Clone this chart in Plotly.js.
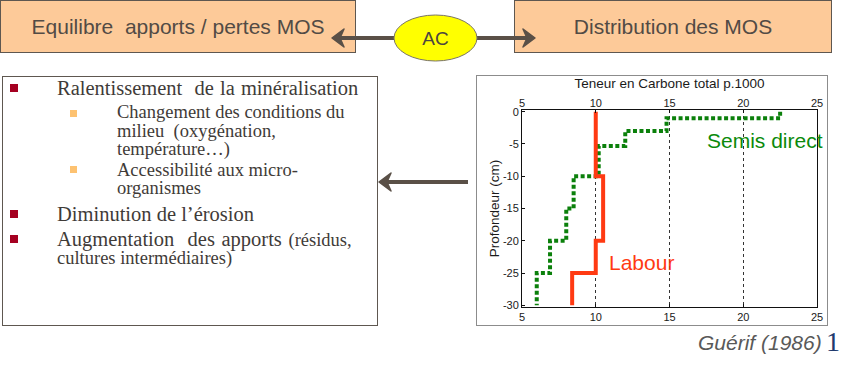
<!DOCTYPE html>
<html>
<head>
<meta charset="utf-8">
<script src="https://cdn.plot.ly/plotly-3.0.1.min.js"></script>
<style>
  html, body { margin:0; padding:0; background:#ffffff; }
  #wrap { position:relative; width:860px; height:376px; overflow:hidden; background:#fff; }
  #chart { position:absolute; left:0; top:0; width:860px; height:376px; }
  .abs { position:absolute; white-space:nowrap; }
  .box { position:absolute; box-sizing:border-box; background:#FDCA99; border:1.5px solid #5e5750;
         font-family:"Liberation Sans", Arial, sans-serif; font-size:21px; color:#524b45;
         display:flex; align-items:center; justify-content:center; }
  .serif { font-family:"Liberation Serif", "Times New Roman", serif; color:#3f3b38; }
  .sq1 { position:absolute; width:8px; height:8px; background:#A50021; }
  .sq2 { position:absolute; width:7px; height:7px; background:#FDC271; }
  #decor { position:absolute; left:0; top:0; width:860px; height:376px; pointer-events:none; }
</style>
</head>
<body>
<div id="wrap">
  <div id="frame" style="position:absolute;left:476px;top:75px;width:352px;height:251px;box-sizing:border-box;border:1.5px solid #8c8c8c;background:#fff;"></div>
  <div id="chart"></div>
  <div id="decor">
    <div class="box" style="left:0px;top:0px;width:356px;height:53px;">Equilibre&nbsp; apports / pertes MOS</div>
    <div class="box" style="left:514px;top:0px;width:318px;height:53px;">Distribution des MOS</div>
    <svg width="860" height="376" style="position:absolute;left:0;top:0;">
      <g stroke="#5a5047" fill="#5a5047">
        <line x1="394" y1="38" x2="340" y2="38" stroke-width="4"/>
        <path d="M332,38 L344,29 L340,38 L344,47 Z" stroke-width="1.5" stroke-linejoin="round"/>
        <line x1="477" y1="38" x2="527" y2="38" stroke-width="4"/>
        <path d="M535,38 L523,29 L527,38 L523,47 Z" stroke-width="1.5" stroke-linejoin="round"/>
        <line x1="468" y1="182" x2="387" y2="182" stroke-width="4"/>
        <path d="M379,182 L391,173 L387,182 L391,191 Z" stroke-width="1.5" stroke-linejoin="round"/>
      </g>
      <ellipse cx="435.5" cy="38" rx="41.5" ry="23" fill="#FFFF00" stroke="#7a7466" stroke-width="1"/>
      <text x="435.5" y="45" text-anchor="middle" font-family="Liberation Sans, Arial, sans-serif" font-size="19" fill="#4a4540">AC</text>
    </svg>
    <div style="position:absolute;left:2px;top:76px;width:376px;height:250px;box-sizing:border-box;border:1.5px solid #5e5750;"></div>

    <div class="sq1" style="left:10px;top:84px;"></div>
    <div class="abs serif" style="left:57px;top:78px;font-size:20.5px;line-height:20px;word-spacing:1px;">Ralentissement&nbsp; de la minéralisation</div>

    <div class="sq2" style="left:70px;top:110px;"></div>
    <div class="abs serif" style="left:117px;top:104px;font-size:18.5px;line-height:17px;">Changement des conditions du</div>
    <div class="abs serif" style="left:117px;top:123px;font-size:18.5px;line-height:17px;">milieu&nbsp; (oxygénation,</div>
    <div class="abs serif" style="left:117px;top:140.5px;font-size:18.5px;line-height:17px;">température…)</div>

    <div class="sq2" style="left:70px;top:166px;"></div>
    <div class="abs serif" style="left:117px;top:161.5px;font-size:18.5px;line-height:17px;">Accessibilité aux micro-</div>
    <div class="abs serif" style="left:117px;top:179.5px;font-size:18.5px;line-height:17px;">organismes</div>

    <div class="sq1" style="left:10px;top:210px;"></div>
    <div class="abs serif" style="left:57px;top:204px;font-size:20.5px;line-height:20px;">Diminution de l’érosion</div>

    <div class="sq1" style="left:10px;top:235px;"></div>
    <div class="abs serif" style="left:57px;top:229px;font-size:20.5px;line-height:20px;word-spacing:1.5px;">Augmentation&nbsp; des apports <span style="font-size:18.5px;">(résidus,</span></div>
    <div class="abs serif" style="left:57px;top:249.5px;font-size:18.5px;line-height:17px;">cultures intermédiaires)</div>

    <div class="abs" style="left:698px;top:331px;font-family:'Liberation Sans',Arial,sans-serif;font-style:italic;font-size:21px;line-height:24px;color:#595959;">Guérif (1986)</div>
    <div class="abs" style="left:826px;top:326px;font-family:'Liberation Serif','Times New Roman',serif;font-size:28px;line-height:32px;color:#1F3A6E;">1</div>
  </div>
</div>
<script>
// Data (carbon content, g/kg, vs depth in cm)
var labourDepth = [0, -10, -20, -25, -30];
var labourCarbon = [10.0, 10.5, 10.0, 8.4, 8.4];

var semisDepth = [0, -1, -3, -5.3, -10, -15, -20, -25, -30];
var semisCarbon = [22.5, 14.8, 12.0, 10.2, 8.5, 8.0, 6.9, 6.0, 6.0];

var xTicks = [5, 10, 15, 20, 25];
var yTickVals = [0, -5, -10, -15, -20, -25, -30];
var yTickText = ['0', '-5', '-10', '-15', '-20', '-25', '-30'];

var fontSans = '"Liberation Sans", Arial, sans-serif';

var traces = [
  {
    x: semisCarbon, y: semisDepth, type: 'scatter', mode: 'lines',
    line: { shape: 'vh', color: '#0b800b', width: 4, dash: '4px,2.5px' },
    hoverinfo: 'skip', showlegend: false
  },
  {
    x: labourCarbon, y: labourDepth, type: 'scatter', mode: 'lines',
    line: { shape: 'vh', color: '#ff3a12', width: 4 },
    hoverinfo: 'skip', showlegend: false
  },
  {
    x: labourCarbon, y: labourDepth, type: 'scatter', mode: 'lines', xaxis: 'x2',
    line: { width: 0 }, opacity: 0, hoverinfo: 'skip', showlegend: false
  }
];

var axisCommon = {
  range: [5, 25], tickvals: xTicks, showline: true, linecolor: '#111', linewidth: 1,
  ticks: 'inside', ticklen: 3, tickcolor: '#111', zeroline: false,
  tickfont: { family: fontSans, size: 11, color: '#1a1a1a' }, fixedrange: true
};

var layout = {
  width: 860, height: 376,
  margin: { l: 522, r: 43, t: 110, b: 69, pad: 0 },
  paper_bgcolor: 'rgba(0,0,0,0)', plot_bgcolor: '#ffffff',
  showlegend: false,
  xaxis: Object.assign({}, axisCommon, {
    side: 'bottom', mirror: true, showgrid: true, gridcolor: '#333', gridwidth: 1, griddash: 'dot'
  }),
  xaxis2: Object.assign({}, axisCommon, {
    side: 'top', overlaying: 'x', showgrid: false, showline: false,
    title: { text: 'Teneur en Carbone total p.1000', font: { family: fontSans, size: 13.5, color: '#1a1a1a' }, standoff: 5 }
  }),
  yaxis: {
    range: [-30.27, 0.27], tickvals: yTickVals, ticktext: yTickText,
    showline: true, mirror: true, linecolor: '#111', linewidth: 1,
    ticks: 'inside', ticklen: 3, tickcolor: '#111', showgrid: false, zeroline: false,
    tickfont: { family: fontSans, size: 11, color: '#1a1a1a' }, fixedrange: true,
    title: { text: 'Profondeur (cm)', font: { family: fontSans, size: 13.5, color: '#1a1a1a' }, standoff: 0 }
  },
  annotations: [
    { x: 17.4, y: -4.4, xref: 'x', yref: 'y', text: 'Semis direct', showarrow: false, xanchor: 'left', yanchor: 'middle',
      font: { family: fontSans, size: 21, color: '#0b8a0b' } },
    { x: 10.75, y: -23.3, xref: 'x', yref: 'y', text: 'Labour', showarrow: false, xanchor: 'left', yanchor: 'middle',
      font: { family: fontSans, size: 21, color: '#ff3a12' } }
  ]
};

Plotly.newPlot('chart', traces, layout, { staticPlot: true, displayModeBar: false });
</script>
</body>
</html>
